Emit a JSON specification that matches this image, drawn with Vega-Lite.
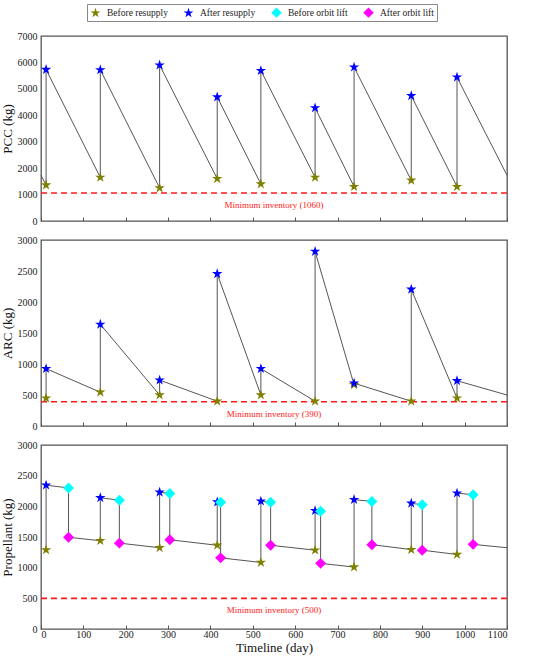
{
  "$schema": "https://vega.github.io/schema/vega-lite/v6.json",
  "padding": {"left": 0, "top": 3, "right": 5, "bottom": 2},
  "spacing": 7,
  "datasets": {
    "pcc": [
      {"seq": 0, "t": 0, "v": 1730, "type": null},
      {"seq": 1, "t": 12, "v": 1360, "type": "Before resupply"},
      {"seq": 2, "t": 12, "v": 5730, "type": "After resupply"},
      {"seq": 3, "t": 140, "v": 1650, "type": "Before resupply"},
      {"seq": 4, "t": 140, "v": 5720, "type": "After resupply"},
      {"seq": 5, "t": 280, "v": 1250, "type": "Before resupply"},
      {"seq": 6, "t": 280, "v": 5900, "type": "After resupply"},
      {"seq": 7, "t": 416, "v": 1600, "type": "Before resupply"},
      {"seq": 8, "t": 416, "v": 4690, "type": "After resupply"},
      {"seq": 9, "t": 519, "v": 1400, "type": "Before resupply"},
      {"seq": 10, "t": 519, "v": 5690, "type": "After resupply"},
      {"seq": 11, "t": 647, "v": 1650, "type": "Before resupply"},
      {"seq": 12, "t": 647, "v": 4280, "type": "After resupply"},
      {"seq": 13, "t": 739, "v": 1300, "type": "Before resupply"},
      {"seq": 14, "t": 739, "v": 5820, "type": "After resupply"},
      {"seq": 15, "t": 874, "v": 1540, "type": "Before resupply"},
      {"seq": 16, "t": 874, "v": 4740, "type": "After resupply"},
      {"seq": 17, "t": 982, "v": 1300, "type": "Before resupply"},
      {"seq": 18, "t": 982, "v": 5440, "type": "After resupply"},
      {"seq": 19, "t": 1100, "v": 1730, "type": null}
    ],
    "arc": [
      {"seq": 1, "t": 12, "v": 450, "type": "Before resupply"},
      {"seq": 2, "t": 12, "v": 925, "type": "After resupply"},
      {"seq": 3, "t": 140, "v": 545, "type": "Before resupply"},
      {"seq": 4, "t": 140, "v": 1640, "type": "After resupply"},
      {"seq": 5, "t": 280, "v": 500, "type": "Before resupply"},
      {"seq": 6, "t": 280, "v": 740, "type": "After resupply"},
      {"seq": 7, "t": 416, "v": 400, "type": "Before resupply"},
      {"seq": 8, "t": 416, "v": 2455, "type": "After resupply"},
      {"seq": 9, "t": 519, "v": 500, "type": "Before resupply"},
      {"seq": 10, "t": 519, "v": 925, "type": "After resupply"},
      {"seq": 11, "t": 647, "v": 400, "type": "Before resupply"},
      {"seq": 12, "t": 647, "v": 2815, "type": "After resupply"},
      {"seq": 13, "t": 739, "v": 665, "type": "Before resupply"},
      {"seq": 14, "t": 739, "v": 690, "type": "After resupply"},
      {"seq": 15, "t": 874, "v": 400, "type": "Before resupply"},
      {"seq": 16, "t": 874, "v": 2205, "type": "After resupply"},
      {"seq": 17, "t": 982, "v": 450, "type": "Before resupply"},
      {"seq": 18, "t": 982, "v": 730, "type": "After resupply"},
      {"seq": 19, "t": 1100, "v": 500, "type": null}
    ],
    "prop": [
      {"seq": 1, "t": 12, "v": 1290, "type": "Before resupply"},
      {"seq": 2, "t": 12, "v": 2345, "type": "After resupply"},
      {"seq": 3, "t": 65, "v": 2300, "type": "Before orbit lift"},
      {"seq": 4, "t": 65, "v": 1495, "type": "After orbit lift"},
      {"seq": 5, "t": 140, "v": 1440, "type": "Before resupply"},
      {"seq": 6, "t": 140, "v": 2140, "type": "After resupply"},
      {"seq": 7, "t": 185, "v": 2100, "type": "Before orbit lift"},
      {"seq": 8, "t": 185, "v": 1400, "type": "After orbit lift"},
      {"seq": 9, "t": 280, "v": 1325, "type": "Before resupply"},
      {"seq": 10, "t": 280, "v": 2230, "type": "After resupply"},
      {"seq": 11, "t": 304, "v": 2210, "type": "Before orbit lift"},
      {"seq": 12, "t": 304, "v": 1455, "type": "After orbit lift"},
      {"seq": 13, "t": 416, "v": 1365, "type": "Before resupply"},
      {"seq": 14, "t": 416, "v": 2070, "type": "After resupply"},
      {"seq": 15, "t": 424, "v": 2065, "type": "Before orbit lift"},
      {"seq": 16, "t": 424, "v": 1160, "type": "After orbit lift"},
      {"seq": 17, "t": 519, "v": 1085, "type": "Before resupply"},
      {"seq": 18, "t": 519, "v": 2085, "type": "After resupply"},
      {"seq": 19, "t": 542, "v": 2065, "type": "Before orbit lift"},
      {"seq": 20, "t": 542, "v": 1365, "type": "After orbit lift"},
      {"seq": 21, "t": 647, "v": 1285, "type": "Before resupply"},
      {"seq": 22, "t": 647, "v": 1930, "type": "After resupply"},
      {"seq": 23, "t": 660, "v": 1920, "type": "Before orbit lift"},
      {"seq": 24, "t": 660, "v": 1070, "type": "After orbit lift"},
      {"seq": 25, "t": 739, "v": 1010, "type": "Before resupply"},
      {"seq": 26, "t": 739, "v": 2110, "type": "After resupply"},
      {"seq": 27, "t": 781, "v": 2080, "type": "Before orbit lift"},
      {"seq": 28, "t": 781, "v": 1375, "type": "After orbit lift"},
      {"seq": 29, "t": 874, "v": 1295, "type": "Before resupply"},
      {"seq": 30, "t": 874, "v": 2050, "type": "After resupply"},
      {"seq": 31, "t": 900, "v": 2025, "type": "Before orbit lift"},
      {"seq": 32, "t": 900, "v": 1285, "type": "After orbit lift"},
      {"seq": 33, "t": 982, "v": 1215, "type": "Before resupply"},
      {"seq": 34, "t": 982, "v": 2215, "type": "After resupply"},
      {"seq": 35, "t": 1020, "v": 2190, "type": "Before orbit lift"},
      {"seq": 36, "t": 1020, "v": 1380, "type": "After orbit lift"},
      {"seq": 37, "t": 1100, "v": 1325, "type": null}
    ],
    "limits": [
      {"panel": "pcc", "min": 1060, "x": 550, "label": "Minimum inventory (1060)"},
      {"panel": "arc", "min": 390, "x": 550, "label": "Minimum inventory (390)"},
      {"panel": "prop", "min": 500, "x": 550, "label": "Minimum inventory (500)"}
    ]
  },
  "vconcat": [
    {
      "width": 466,
      "height": 185,
      "layer": [
        {
          "data": {"name": "pcc"},
          "mark": {"type": "line", "color": "#555555", "strokeWidth": 1},
          "encoding": {
            "x": {"field": "t", "type": "quantitative", "scale": {"domain": [0, 1100]}, "axis": {"labels": false, "title": null, "tickCount": 20, "values": [0,100,200,300,400,500,600,700,800,900,1000,1100]}},
            "y": {"field": "v", "type": "quantitative", "scale": {"domain": [0, 7000]}, "axis": {"title": "PCC (kg)", "tickCount": 20, "labelOverlap": false, "values": [0,1000,2000,3000,4000,5000,6000,7000]}},
            "order": {"field": "seq"}
          }
        },
        {
          "data": {"name": "limits"},
          "transform": [{"filter": "datum.panel == 'pcc'"}],
          "mark": {"type": "rule", "color": "#ff1a1a", "strokeWidth": 1.6, "strokeDash": [6, 4]},
          "encoding": {"y": {"field": "min", "type": "quantitative", "axis": {"title": "PCC (kg)", "tickCount": 20, "labelOverlap": false, "values": [0,1000,2000,3000,4000,5000,6000,7000]}}}
        },
        {
          "data": {"name": "limits"},
          "transform": [{"filter": "datum.panel == 'pcc'"}],
          "mark": {"type": "text", "color": "#ff1a1a", "fontSize": 9, "dy": 12, "font": "Liberation Serif"},
          "encoding": {
            "x": {"field": "x", "type": "quantitative", "axis": {"labels": false, "title": null, "tickCount": 20, "values": [0,100,200,300,400,500,600,700,800,900,1000,1100]}},
            "y": {"field": "min", "type": "quantitative", "axis": {"title": "PCC (kg)", "tickCount": 20, "labelOverlap": false, "values": [0,1000,2000,3000,4000,5000,6000,7000]}},
            "text": {"field": "label"}}
        },
        {
          "data": {"name": "pcc"},
          "transform": [{"filter": "datum.type != null"}],
          "mark": {"type": "point", "filled": true, "size": 120, "opacity": 1},
          "encoding": {
            "x": {"field": "t", "type": "quantitative", "axis": {"labels": false, "title": null, "tickCount": 20, "values": [0,100,200,300,400,500,600,700,800,900,1000,1100]}},
            "y": {"field": "v", "type": "quantitative", "axis": {"title": "PCC (kg)", "tickCount": 20, "labelOverlap": false, "values": [0,1000,2000,3000,4000,5000,6000,7000]}},
            "color": {"field": "type", "type": "nominal", "scale": {"domain": ["Before resupply", "After resupply", "Before orbit lift", "After orbit lift"], "range": ["#7f7f00", "#0000ff", "#00ffff", "#ff00ff"]},
              "legend": {"title": null, "orient": "none", "legendX": 46, "legendY": -32, "direction": "horizontal", "columns": 4, "strokeColor": "#888888", "fillColor": "white", "padding": 3, "labelFont": "Liberation Serif", "labelFontSize": 9.5, "symbolSize": 110, "columnPadding": 15, "symbolStrokeWidth": 0, "labelColor": "#222222", "labelOffset": 6}},
            "shape": {"field": "type", "type": "nominal", "scale": {"domain": ["Before resupply", "After resupply", "Before orbit lift", "After orbit lift"], "range": ["M0,-1L0.2245,-0.309L0.9511,-0.309L0.3633,0.118L0.5878,0.809L0,0.382L-0.5878,0.809L-0.3633,0.118L-0.9511,-0.309L-0.2245,-0.309Z", "M0,-1L0.2245,-0.309L0.9511,-0.309L0.3633,0.118L0.5878,0.809L0,0.382L-0.5878,0.809L-0.3633,0.118L-0.9511,-0.309L-0.2245,-0.309Z", "diamond", "diamond"]},
              "legend": {"title": null}}
          }
        }
      ]
    },
    {
      "width": 466,
      "height": 186,
      "layer": [
        {
          "data": {"name": "arc"},
          "mark": {"type": "line", "color": "#555555", "strokeWidth": 1},
          "encoding": {
            "x": {"field": "t", "type": "quantitative", "scale": {"domain": [0, 1100]}, "axis": {"labels": false, "title": null, "tickCount": 20, "values": [0,100,200,300,400,500,600,700,800,900,1000,1100]}},
            "y": {"field": "v", "type": "quantitative", "scale": {"domain": [0, 3000]}, "axis": {"title": "ARC (kg)", "tickCount": 20, "labelOverlap": false, "values": [0,500,1000,1500,2000,2500,3000]}},
            "order": {"field": "seq"}
          }
        },
        {
          "data": {"name": "limits"},
          "transform": [{"filter": "datum.panel == 'arc'"}],
          "mark": {"type": "rule", "color": "#ff1a1a", "strokeWidth": 1.6, "strokeDash": [6, 4]},
          "encoding": {"y": {"field": "min", "type": "quantitative", "axis": {"title": "ARC (kg)", "tickCount": 20, "labelOverlap": false, "values": [0,500,1000,1500,2000,2500,3000]}}}
        },
        {
          "data": {"name": "limits"},
          "transform": [{"filter": "datum.panel == 'arc'"}],
          "mark": {"type": "text", "color": "#ff1a1a", "fontSize": 9, "dy": 12, "font": "Liberation Serif"},
          "encoding": {
            "x": {"field": "x", "type": "quantitative", "axis": {"labels": false, "title": null, "tickCount": 20, "values": [0,100,200,300,400,500,600,700,800,900,1000,1100]}},
            "y": {"field": "min", "type": "quantitative", "axis": {"title": "ARC (kg)", "tickCount": 20, "labelOverlap": false, "values": [0,500,1000,1500,2000,2500,3000]}},
            "text": {"field": "label"}}
        },
        {
          "data": {"name": "arc"},
          "transform": [{"filter": "datum.type != null"}],
          "mark": {"type": "point", "filled": true, "size": 120, "opacity": 1},
          "encoding": {
            "x": {"field": "t", "type": "quantitative", "axis": {"labels": false, "title": null, "tickCount": 20, "values": [0,100,200,300,400,500,600,700,800,900,1000,1100]}},
            "y": {"field": "v", "type": "quantitative", "axis": {"title": "ARC (kg)", "tickCount": 20, "labelOverlap": false, "values": [0,500,1000,1500,2000,2500,3000]}},
            "color": {"field": "type", "type": "nominal"},
            "shape": {"field": "type", "type": "nominal"}
          }
        }
      ]
    },
    {
      "width": 466,
      "height": 184,
      "layer": [
        {
          "data": {"name": "prop"},
          "mark": {"type": "line", "color": "#555555", "strokeWidth": 1},
          "encoding": {
            "x": {"field": "t", "type": "quantitative", "scale": {"domain": [0, 1100]}, "axis": {"title": "Timeline (day)", "tickCount": 20, "labelOverlap": false, "values": [0,100,200,300,400,500,600,700,800,900,1000,1100]}},
            "y": {"field": "v", "type": "quantitative", "scale": {"domain": [0, 3000]}, "axis": {"title": "Propellant (kg)", "tickCount": 20, "labelOverlap": false, "values": [0,500,1000,1500,2000,2500,3000]}},
            "order": {"field": "seq"}
          }
        },
        {
          "data": {"name": "limits"},
          "transform": [{"filter": "datum.panel == 'prop'"}],
          "mark": {"type": "rule", "color": "#ff1a1a", "strokeWidth": 1.6, "strokeDash": [6, 4]},
          "encoding": {"y": {"field": "min", "type": "quantitative", "axis": {"title": "Propellant (kg)", "tickCount": 20, "labelOverlap": false, "values": [0,500,1000,1500,2000,2500,3000]}}}
        },
        {
          "data": {"name": "limits"},
          "transform": [{"filter": "datum.panel == 'prop'"}],
          "mark": {"type": "text", "color": "#ff1a1a", "fontSize": 9, "dy": 12, "font": "Liberation Serif"},
          "encoding": {
            "x": {"field": "x", "type": "quantitative", "axis": {"title": "Timeline (day)", "tickCount": 20, "labelOverlap": false, "values": [0,100,200,300,400,500,600,700,800,900,1000,1100]}},
            "y": {"field": "min", "type": "quantitative", "axis": {"title": "Propellant (kg)", "tickCount": 20, "labelOverlap": false, "values": [0,500,1000,1500,2000,2500,3000]}},
            "text": {"field": "label"}}
        },
        {
          "data": {"name": "prop"},
          "transform": [{"filter": "datum.type != null"}],
          "mark": {"type": "point", "filled": true, "size": 120, "opacity": 1},
          "encoding": {
            "x": {"field": "t", "type": "quantitative", "axis": {"title": "Timeline (day)", "tickCount": 20, "labelOverlap": false, "values": [0,100,200,300,400,500,600,700,800,900,1000,1100]}},
            "y": {"field": "v", "type": "quantitative", "axis": {"title": "Propellant (kg)", "tickCount": 20, "labelOverlap": false, "values": [0,500,1000,1500,2000,2500,3000]}},
            "color": {"field": "type", "type": "nominal"},
            "shape": {"field": "type", "type": "nominal"}
          }
        }
      ]
    }
  ],
  "config": {
    "font": "Liberation Serif",
    "view": {"stroke": "#555555", "strokeWidth": 1.3},
    "axis": {"grid": false, "domain": false, "format": "d", "labelOverlap": false, "labelFont": "Liberation Serif", "labelFontSize": 10, "labelColor": "#222222", "titleFont": "Liberation Serif", "titleFontSize": 13, "titleFontWeight": "normal", "titleColor": "#111111", "tickColor": "#555555"},
    "axisY": {"ticks": false, "labelPadding": 4, "titlePadding": 3},
    "axisX": {"tickSize": -4, "labelPadding": 4, "titlePadding": 2}
  }
}
